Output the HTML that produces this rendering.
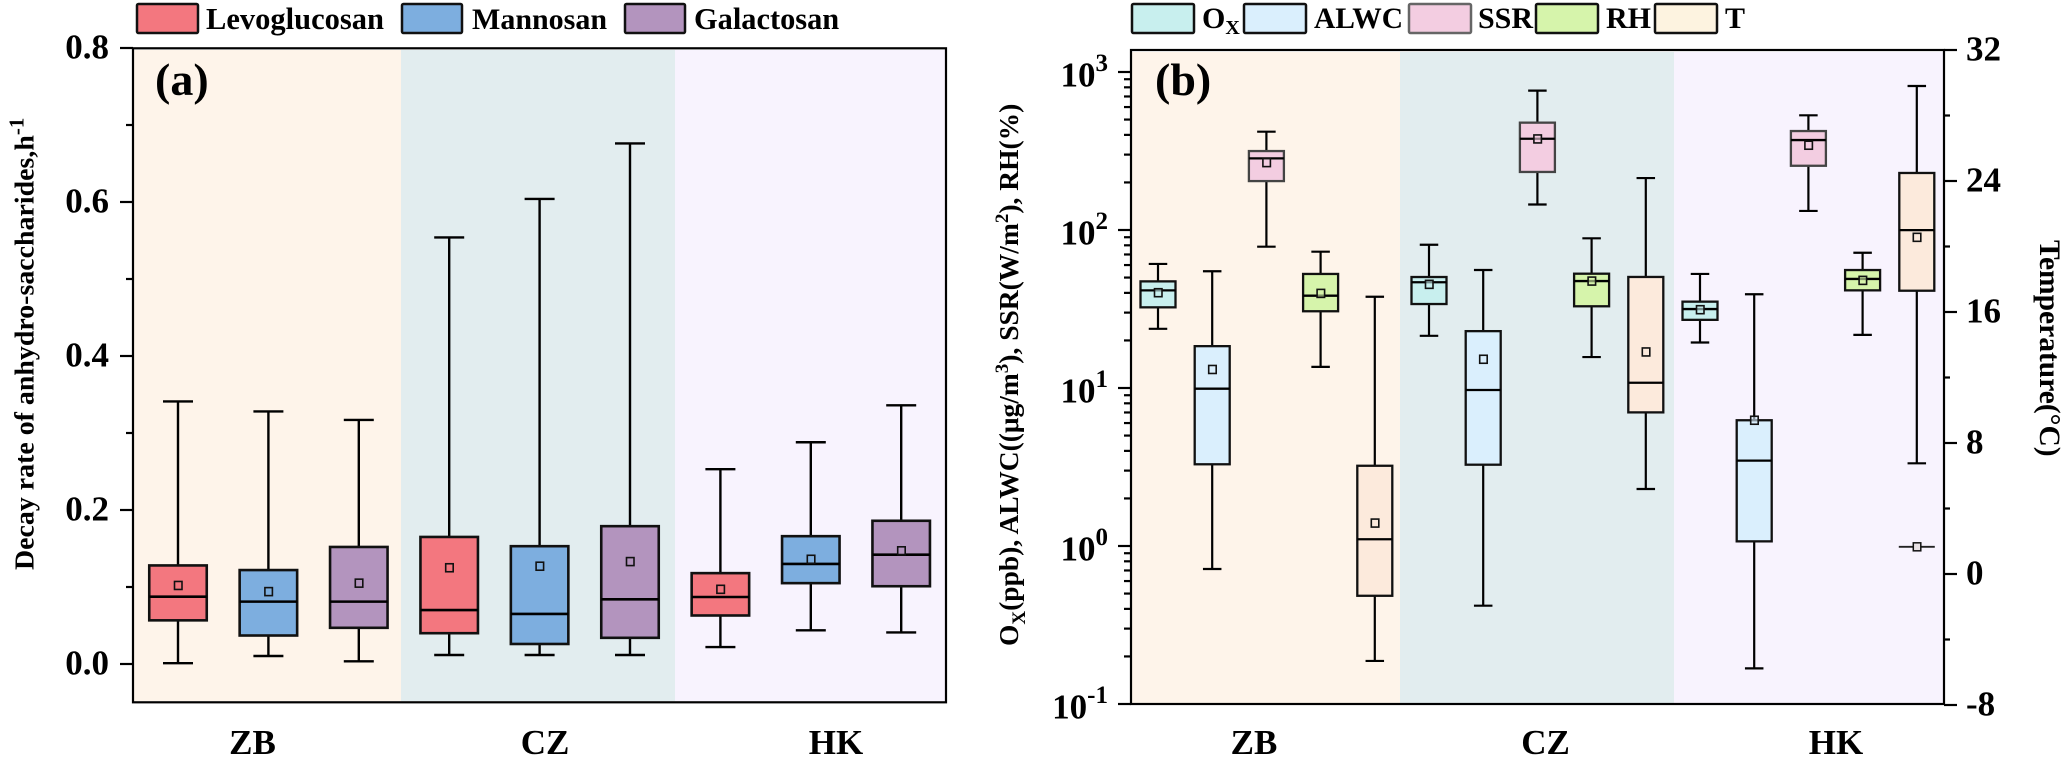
<!DOCTYPE html>
<html lang="en">
<head>
<meta charset="utf-8">
<title>Decay rate of anhydro-saccharides and meteorological conditions</title>
<style>
html,body{margin:0;padding:0;background:#fff;}
svg{display:block;}
text{font-family:"Liberation Serif",serif;font-weight:bold;fill:#000;}
</style>
</head>
<body>
<svg id="chart" xmlns="http://www.w3.org/2000/svg" width="2067" height="758" viewBox="0 0 2067 758">
  <g>
    <rect x="133" y="50" width="268" height="651" fill="#fef4ea"/>
    <rect x="401" y="50" width="274" height="651" fill="#e2edef"/>
    <rect x="675" y="50" width="271" height="651" fill="#f8f3fe"/>
  </g>
  <g>
    <rect x="1131" y="52" width="269" height="651" fill="#fef4ea"/>
    <rect x="1400" y="52" width="274" height="651" fill="#e2edef"/>
    <rect x="1674" y="52" width="270" height="651" fill="#f8f3fe"/>
  </g>
  <g id="marks-a"></g>
  <g id="marks-b"></g>
  <g id="axes"></g>

  <text x="155" y="95" font-size="46">(a)</text>
  <text x="1155" y="95" font-size="46">(b)</text>

  <text x="252.5" y="754" font-size="35" text-anchor="middle">ZB</text>
  <text x="545" y="754" font-size="35" text-anchor="middle">CZ</text>
  <text x="836" y="754" font-size="35" text-anchor="middle">HK</text>
  <text x="1254" y="754" font-size="35" text-anchor="middle">ZB</text>
  <text x="1545.5" y="754" font-size="35" text-anchor="middle">CZ</text>
  <text x="1836" y="754" font-size="35" text-anchor="middle">HK</text>

  <text transform="translate(33.5,570) rotate(-90)" font-size="27.9">Decay rate of anhydro-saccharides,h<tspan dy="-10" font-size="21">-1</tspan></text>
  <text transform="translate(1018,646) rotate(-90)" font-size="27.5">O<tspan dy="7" font-size="19">X</tspan><tspan dy="-7">(ppb), ALWC((μg/m</tspan><tspan dy="-10" font-size="19">3</tspan><tspan dy="10">), SSR(W/m</tspan><tspan dy="-10" font-size="19">2</tspan><tspan dy="10">), RH(%)</tspan></text>
  <text transform="translate(2040,240) rotate(90)" font-size="29.5">Temperature(°C)</text>

  <g>
    <rect x="137" y="4" width="61" height="29" rx="1.5" fill="#f3777f" stroke="#111" stroke-width="2.5"/>
    <text x="206" y="29" font-size="30.5">Levoglucosan</text>
    <rect x="402" y="4" width="60" height="29" rx="1.5" fill="#7daedf" stroke="#111" stroke-width="2.5"/>
    <text x="472" y="29" font-size="30">Mannosan</text>
    <rect x="625" y="4" width="60" height="29" rx="1.5" fill="#b394be" stroke="#111" stroke-width="2.5"/>
    <text x="694" y="29" font-size="30.4">Galactosan</text>
  </g>
  <g>
    <rect x="1132" y="4" width="62" height="29" rx="1.5" fill="#c8efee" stroke="#111" stroke-width="2.5"/>
    <text x="1202" y="28" font-size="30">O<tspan dy="6" font-size="20">X</tspan></text>
    <rect x="1244" y="4" width="62" height="29" rx="1.5" fill="#daeffd" stroke="#111" stroke-width="2.5"/>
    <text x="1314" y="28" font-size="29.5">ALWC</text>
    <rect x="1409" y="4" width="62" height="29" rx="1.5" fill="#f3cde1" stroke="#666" stroke-width="2.5"/>
    <text x="1478" y="28" font-size="30">SSR</text>
    <rect x="1536" y="4" width="62" height="29" rx="1.5" fill="#d6f4ab" stroke="#111" stroke-width="2.5"/>
    <text x="1606" y="28" font-size="30">RH</text>
    <rect x="1655" y="4" width="62" height="29" rx="1.5" fill="#fdf3e0" stroke="#111" stroke-width="2.5"/>
    <text x="1725" y="28" font-size="30">T</text>
  </g>
</svg>

<script>
// Panel (a): one entry per box, ordered ZB / CZ / HK with Levoglucosan, Mannosan, Galactosan in each.
const aBoxNames = ['zb-levoglucosan','zb-mannosan','zb-galactosan','cz-levoglucosan','cz-mannosan','cz-galactosan','hk-levoglucosan','hk-mannosan','hk-galactosan'];
const aWhiskerLow  = [0.001,0.0104,0.0035,0.0117,0.0117,0.0117,0.022,0.0437,0.041];
const aQ1          = [0.0567,0.037,0.047,0.040,0.026,0.034,0.063,0.105,0.101];
const aMedian      = [0.0874,0.081,0.081,0.070,0.065,0.084,0.087,0.130,0.142];
const aQ3          = [0.128,0.122,0.152,0.165,0.153,0.179,0.118,0.166,0.186];
const aWhiskerHigh = [0.341,0.328,0.317,0.554,0.604,0.676,0.253,0.288,0.336];
const aMean        = [0.102,0.094,0.105,0.125,0.127,0.133,0.097,0.136,0.147];
const aTicks = ['0.0','0.2','0.4','0.6','0.8'];
const aMinorTicks = [0.1,0.3,0.5,0.7];

// Panel (b): ordered ZB / CZ / HK with Ox, ALWC, SSR, RH, T in each. T values are in degrees C (right axis).
const bBoxNames = ['zb-ox','zb-alwc','zb-ssr','zb-rh','zb-t','cz-ox','cz-alwc','cz-ssr','cz-rh','cz-t','hk-ox','hk-alwc','hk-ssr','hk-rh','hk-t'];
const bWhiskerLow  = [23.7,0.715,78.4,13.6,-5.31, 21.4,0.419,145,15.7,5.19, 19.4,0.168,132,21.7,6.76];
const bQ1          = [32.4,3.29,204,30.6,-1.33, 34,3.27,233,32.9,9.87, 27,1.07,255,41.5,17.3];
const bMedian      = [41.5,9.9,284,38.4,2.12, 46.7,9.71,378,47.5,11.68, 31.6,3.47,371,49,21.0];
const bQ3          = [47.3,18.4,316,52.7,6.61, 50.4,22.9,478,52.9,18.14, 35.2,6.25,423,55.8,24.49];
const bWhiskerHigh = [61,54.8,419,72.9,16.93, 80.7,55.8,762,88.6,24.18, 52.7,39.2,532,71.8,29.8];
const bMean        = [40.1,13.1,267,39.7,3.11, 45.3,15.2,377,47.5,13.56, 31.3,6.25,344,48,20.56];
const hkTemperatureOutlier = [1.66];
const bLogDecades = [-1,0,1,2,3];
const bMinorFactors = [2,3,4,5,6,7,8,9];
const bTemperatureTicks = ['-8','0','8','16','24','32'];
const bTemperatureMinorTicks = [-4,4,12,20,28];

// Axis functions
function xA(i){ return 178 + 90.4 * i; }
function yA(v){ return 664 - 770 * v; }
function xB(i){ return 1158 + 54.2 * i; }
function yLog(v){ return 546 - 158 * Math.log10(v); }
function yTemp(v){ return 574 - 16.375 * v; }

const NS = 'http://www.w3.org/2000/svg';
function make(tag, attrs, parent){
  const el = document.createElementNS(NS, tag);
  for (const k in attrs) el.setAttribute(k, attrs[k]);
  parent.appendChild(el);
  return el;
}

function drawBox(parent, name, x, scale, low, q1, med, q3, high, mean, o){
  const g = make('g', {}, parent);
  
  
  const wh = make('line', {x1:x, x2:x, y1:scale(high), y2:scale(q3), stroke:'#000', 'stroke-width':o.whisker}, g);
  
  
  const wl = make('line', {x1:x, x2:x, y1:scale(q1), y2:scale(low), stroke:'#000', 'stroke-width':o.whisker}, g);
  
  
  const ch = make('line', {x1:x-o.cap/2, x2:x+o.cap/2, y1:scale(high), y2:scale(high), stroke:'#000', 'stroke-width':o.whisker}, g);
  
  
  const cl = make('line', {x1:x-o.cap/2, x2:x+o.cap/2, y1:scale(low), y2:scale(low), stroke:'#000', 'stroke-width':o.whisker}, g);
  
  
  const r = make('rect', {x:x-o.width/2, y:scale(q3), width:o.width, height:scale(q1)-scale(q3), fill:o.fill, stroke:o.stroke, 'stroke-width':o.border}, g);
  
  
  const m = make('line', {x1:x-o.width/2, x2:x+o.width/2, y1:scale(med), y2:scale(med), stroke:'#000', 'stroke-width':o.border}, g);
  
  
  const s = make('rect', {x:x-3.5, y:scale(mean)-4, width:7.5, height:8, fill:o.fill, 'fill-opacity':0.6, stroke:'#111', 'stroke-width':1.6}, g);
  
  
}

// Panel (a) boxes
const aFills = ['#f3777f','#7daedf','#b394be'];
const marksA = document.getElementById('marks-a');
aBoxNames.forEach(function(name, i){
  drawBox(marksA, name, xA(i), yA, aWhiskerLow[i], aQ1[i], aMedian[i], aQ3[i], aWhiskerHigh[i], aMean[i],
    {width:57.5, cap:30, fill:aFills[i % 3], stroke:'#111', border:2.6, whisker:2.4});
});

// Panel (b) boxes
const bFills = ['#c8efee','#daeffd','#f3cde1','#d6f4ab','#fceadc'];
const marksB = document.getElementById('marks-b');
bBoxNames.forEach(function(name, i){
  const isTemp = i % 5 === 4;
  const isSsr = i % 5 === 2;
  drawBox(marksB, name, xB(i), isTemp ? yTemp : yLog, bWhiskerLow[i], bQ1[i], bMedian[i], bQ3[i], bWhiskerHigh[i], bMean[i],
    {width:35, cap:18.5, fill:bFills[i % 5], stroke:isSsr ? '#444' : '#111', border:2.3, whisker:2.2});
});

// HK temperature outlier marker
hkTemperatureOutlier.forEach(function(v){
  const x = xB(14);
  const ol = make('line', {x1:x-18, x2:x+18, y1:yTemp(v), y2:yTemp(v), stroke:'#222', 'stroke-width':1.8}, marksB);
  
  
  const os = make('rect', {x:x-3.5, y:yTemp(v)-4, width:7.5, height:8, fill:'#e8e0e4', stroke:'#111', 'stroke-width':1.5}, marksB);
  
  
});

// Axes
const axes = document.getElementById('axes');
const aFrame = make('rect', {x:133, y:48.3, width:813, height:654, fill:'none', stroke:'#000', 'stroke-width':2.2}, axes);


const bFrame = make('rect', {x:1131, y:50, width:813, height:654, fill:'none', stroke:'#000', 'stroke-width':2.2}, axes);



function tick(name, x1, x2, y){
  const t = make('line', {x1:x1, x2:x2, y1:y, y2:y, stroke:'#000', 'stroke-width':2.2}, axes);
  
  
}

aTicks.forEach(function(label){
  const y = yA(parseFloat(label));
  tick('y-tick-a-' + label, 120, 133, y);
  const t = make('text', {x:109, y:y + 10.5, 'font-size':35, 'text-anchor':'end'}, axes);
  t.textContent = label;
  
  
});
aMinorTicks.forEach(function(v){
  tick('y-minor-tick-a-' + v, 126, 133, yA(v));
});

bLogDecades.forEach(function(d){
  const y = yLog(Math.pow(10, d));
  tick('y-tick-b-1e' + d, 1118, 1131, y);
  const t = make('text', {x:1108, y:y + 14.7, 'font-size':35, 'text-anchor':'end'}, axes);
  
  
  const base = make('tspan', {}, t);
  base.textContent = '10';
  const sup = make('tspan', {dy:-15.5, 'font-size':25}, t);
  sup.textContent = String(d);
  if (d < 3) {
    bMinorFactors.forEach(function(f){
      tick('y-minor-tick-b-' + f + 'e' + d, 1124, 1131, yLog(f * Math.pow(10, d)));
    });
  }
});

bTemperatureTicks.forEach(function(label){
  const y = yTemp(parseFloat(label));
  tick('right-tick-b-' + label, 1944, 1957, y);
  const t = make('text', {x:1966, y:y + 10.5, 'font-size':35}, axes);
  t.textContent = label;
  
  
});
bTemperatureMinorTicks.forEach(function(v){
  tick('right-minor-tick-b-' + v, 1944, 1950, yTemp(v));
});
</script>
</body>
</html>
